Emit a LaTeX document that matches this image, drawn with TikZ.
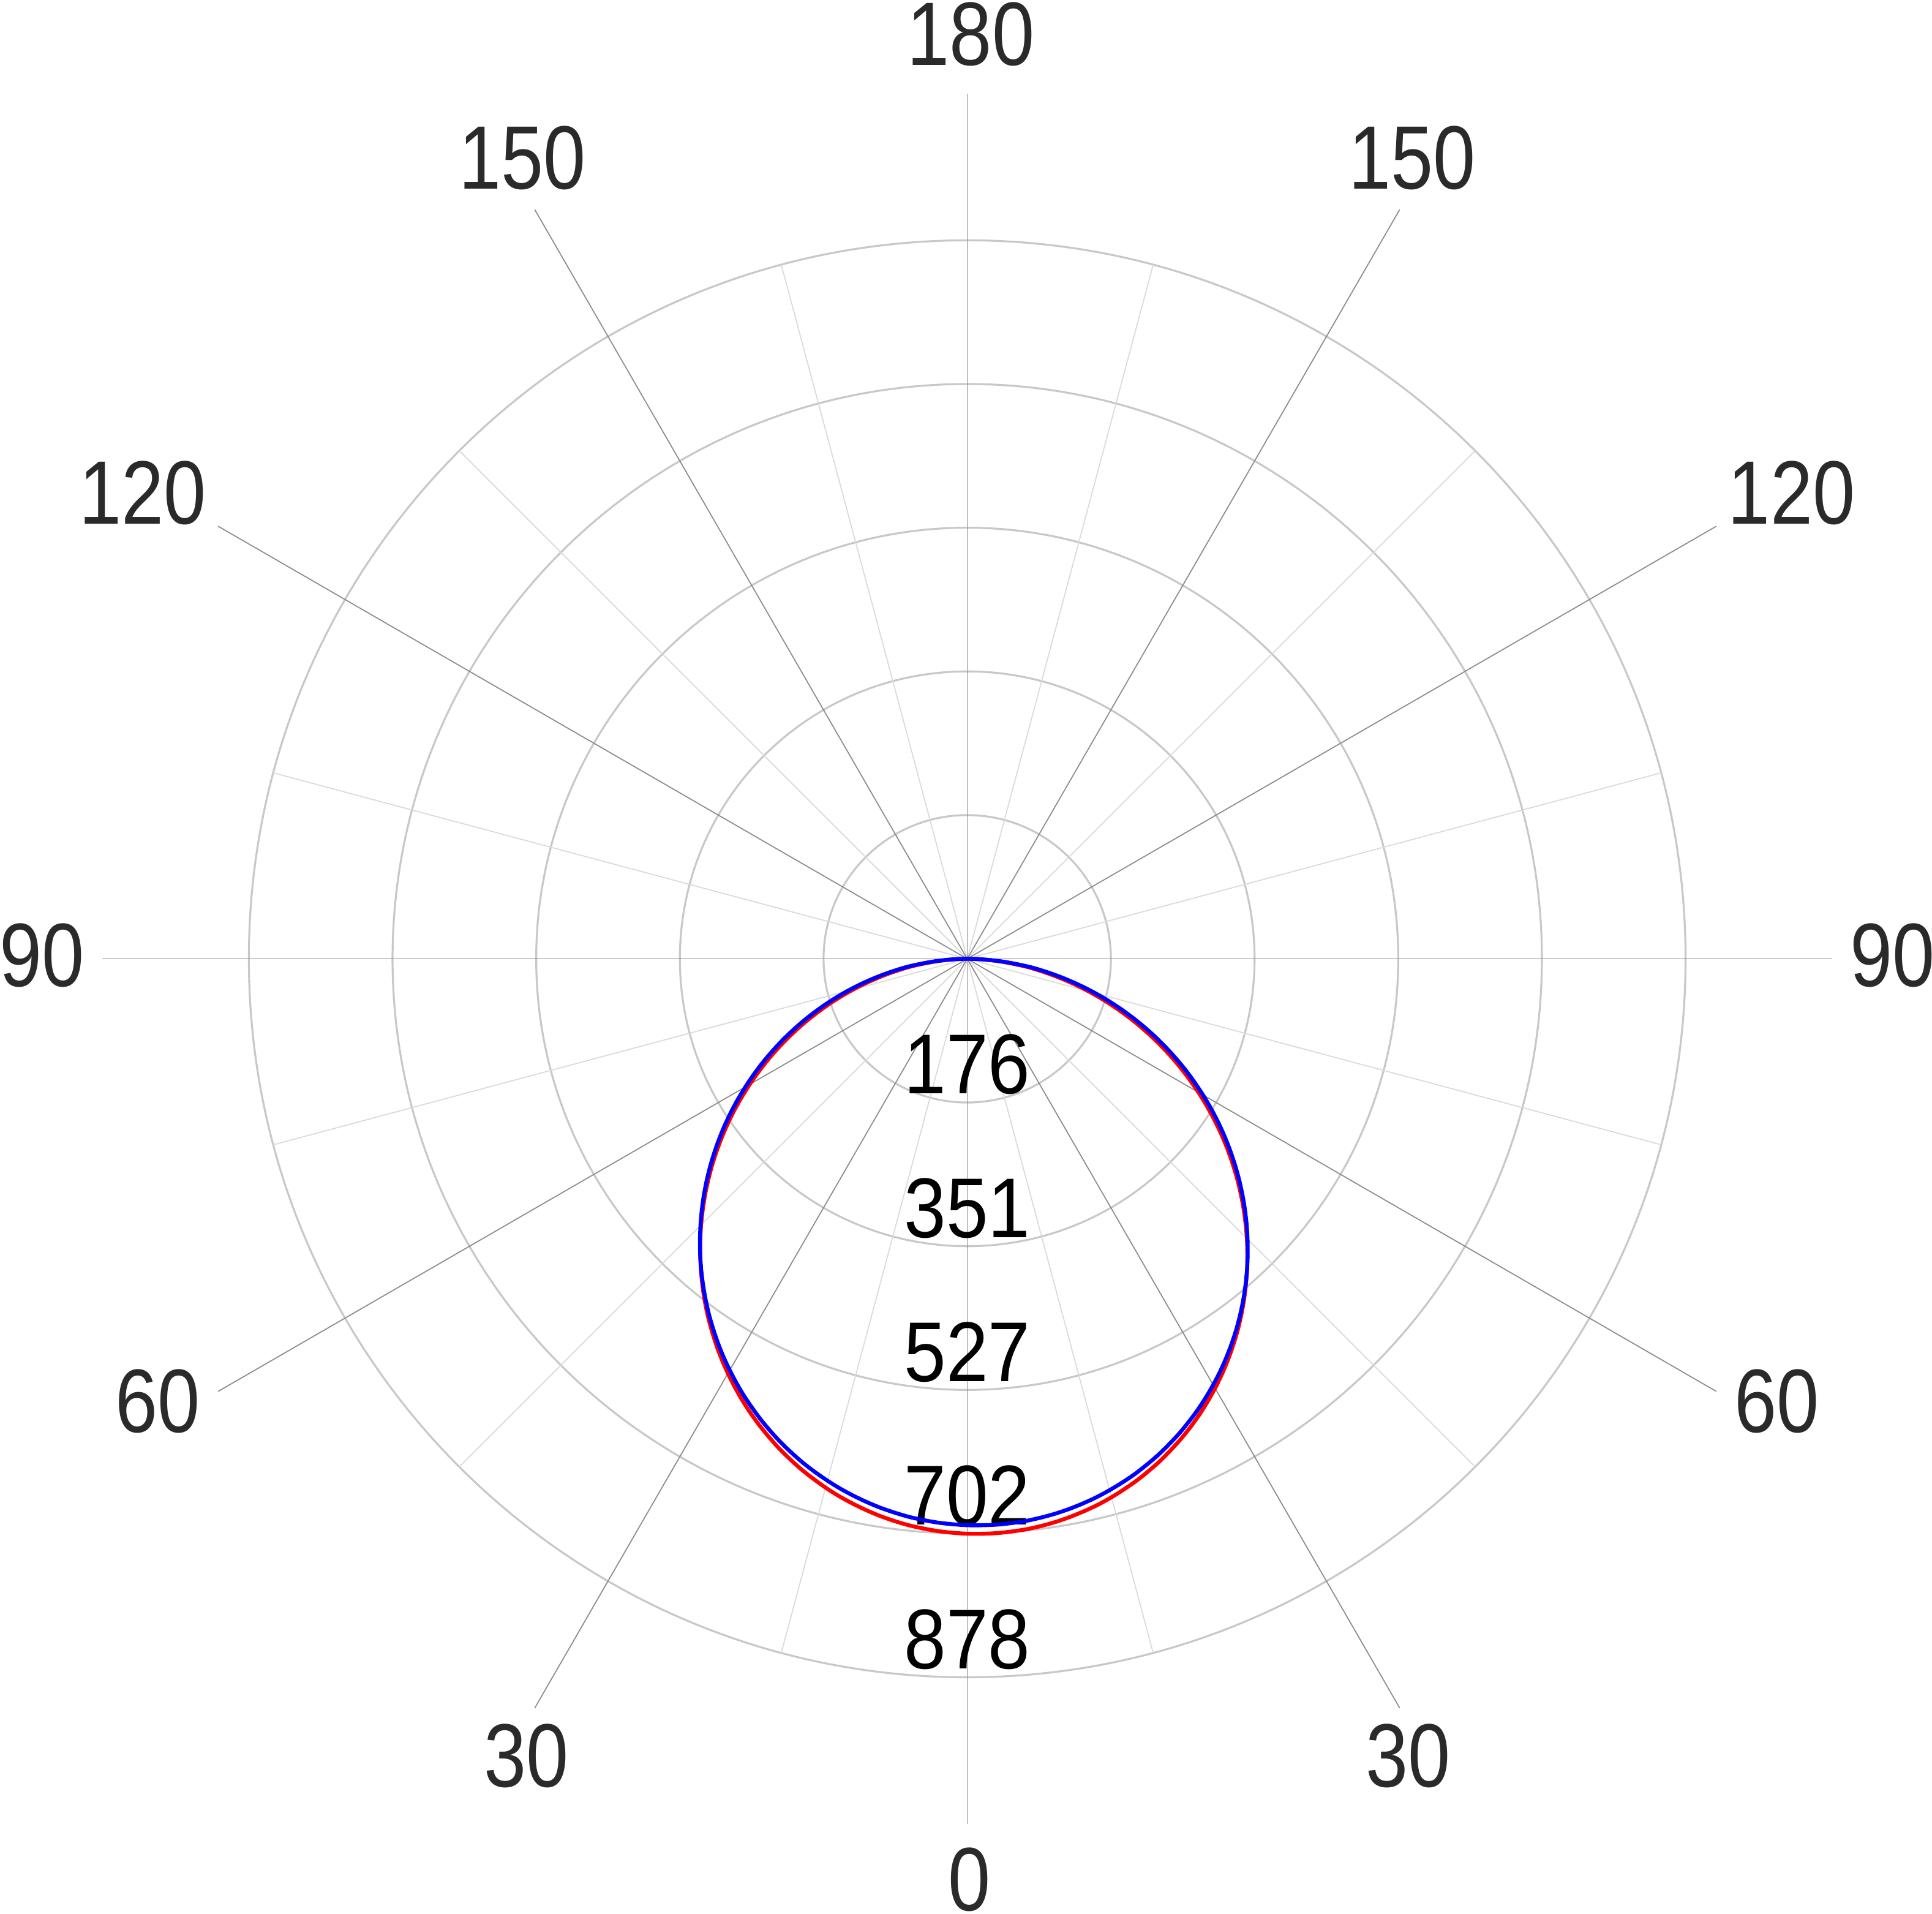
\documentclass[tikz,border=0pt]{standalone}
\usepackage{fontspec}
\setmainfont{Liberation Sans}[FakeStretch=0.845]
\newfontfamily\valuefont{Liberation Sans}[FakeStretch=0.89]
\usepackage{xcolor}
\definecolor{ringgray}{HTML}{C8C8C8}
\definecolor{spokegray}{HTML}{8C8C8C}
\definecolor{finegray}{HTML}{DADADA}
\definecolor{labelgray}{HTML}{2A2A2A}

\begin{document}
\begin{tikzpicture}[x=0.1mm,y=0.1mm,
  ring/.style={draw=ringgray, line width=0.45pt},
  spoke/.style={draw=spokegray, line width=0.25pt},
  finespoke/.style={draw=finegray, line width=0.25pt},
  anglelabel/.style={text=labelgray, inner sep=0pt, font=\fontsize{20.8}{24}\selectfont},
  ringlabel/.style={text=black, inner sep=0pt, anchor=base, font=\valuefont\fontsize{19.6}{23}\selectfont},
  curve/.style={line width=0.9pt, smooth}]
\useasboundingbox (-785,-775) rectangle (783,778);
\coordinate (O) at (0,0);

% rings and spokes
\foreach \i in {1,...,5}
  \draw[ring] (O) circle ({116.6*\i});
\foreach \a in {15,45,...,345}
  \draw[finespoke] (O) -- (\a:583);
\foreach \a in {0,30,...,330}
  \draw[spoke] (O) -- (\a:702);

% angle labels
\node[anglelabel] (top) at (3,750) {180};
\node[anglelabel] (bottom) at (2,-747) {0};
\foreach \v/\dx/\dy in {30/358/-647,60/657/-359,90/751/3,120/669/378,150/361/650} {
  \node[anglelabel] (left\v) at (-\dx,\dy) {\v};
  \node[anglelabel] (right\v) at (\dx,\dy) {\v};
}

% ring values
\foreach \i/\t in {1/176,2/351,3/527,4/702,5/878}
  \node[ringlabel] (val\i) at (0,{-116.6*\i+7}) {\t};

% measured curves
\draw[curve, red] plot[domain=-90:90, samples=121]
  ({466.5*pow(max(cos(\x),0.0001),1.15)*(1+0.035*sin(\x))*sin(\x)},
   {-466.5*pow(max(cos(\x),0.0001),1.15)*(1+0.035*sin(\x))*cos(\x)});
\draw[curve, blue] plot[domain=-90:90, samples=121]
  ({459.6*pow(max(cos(\x),0.0001),1.10)*(1+0.035*sin(\x))*sin(\x)},
   {-459.6*pow(max(cos(\x),0.0001),1.10)*(1+0.035*sin(\x))*cos(\x)});

\end{tikzpicture}
\end{document}
